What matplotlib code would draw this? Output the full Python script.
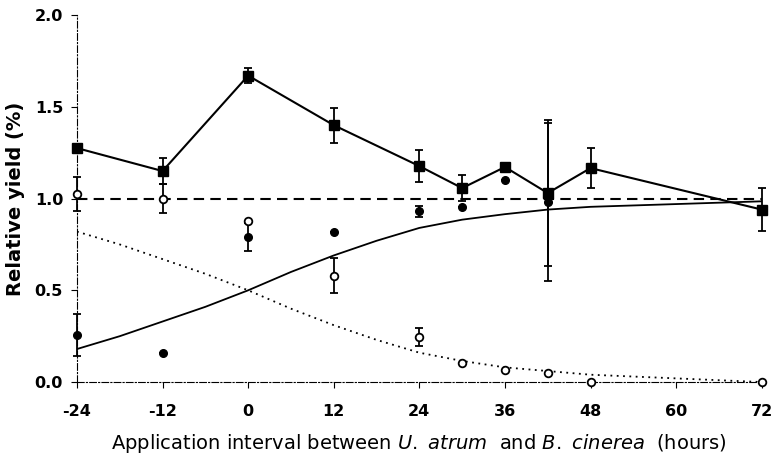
import numpy as np
import matplotlib.pyplot as plt

plt.rcParams['font.family'] = ['DejaVu Sans']
plt.rcParams['mathtext.fontset'] = 'custom'
plt.rcParams['mathtext.rm'] = 'DejaVu Sans'
plt.rcParams['mathtext.it'] = 'DejaVu Sans:italic'
plt.rcParams['axes.unicode_minus'] = False

# filled squares (joined by solid line)
sq_x = [-24, -12, 0, 12, 24, 30, 36, 42, 48, 72]
sq_y = [1.275, 1.15, 1.67, 1.40, 1.177, 1.057, 1.172, 1.03, 1.166, 0.94]
sq_err = [0.0, 0.07, 0.04, 0.095, 0.085, 0.07, 0.0, 0.40, 0.11, 0.115]

# open circles
oc_x = [-24, -12, 0, 12, 24, 30, 36, 42, 48, 72]
oc_y = [1.025, 1.0, 0.88, 0.58, 0.245, 0.105, 0.065, 0.05, 0.0, 0.0]
oc_err = [0.095, 0.08, 0.0, 0.095, 0.05, 0.0, 0.0, 0.0, 0.0, 0.0]

# filled circles
fc_x = [-24, -12, 0, 12, 24, 30, 36, 42]
fc_y = [0.256, 0.157, 0.79, 0.82, 0.93, 0.955, 1.10, 0.98]
fc_err = [0.115, 0.0, 0.075, 0.0, 0.03, 0.0, 0.0, 0.43]

# fitted curves
curve_x = [-24, -18, -12, -6, 0, 6, 12, 18, 24, 30, 36, 42, 48, 60, 72]
rise_y = [0.18, 0.25, 0.33, 0.41, 0.50, 0.60, 0.69, 0.77, 0.84, 0.885, 0.915, 0.94, 0.955, 0.97, 0.985]
fall_y = [0.82, 0.75, 0.67, 0.59, 0.50, 0.40, 0.31, 0.23, 0.16, 0.115, 0.08, 0.06, 0.04, 0.02, 0.0]

ref_x = [-24, 72]
ref_y = [1.0, 1.0]

x_ticks = [-24, -12, 0, 12, 24, 36, 48, 60, 72]
y_ticks = [0.0, 0.5, 1.0, 1.5, 2.0]

fig = plt.figure(figsize=(7.72, 4.57), dpi=100)
ax = fig.add_axes([0.0997, 0.164, 0.887, 0.803])

ax.plot(ref_x, ref_y, color='black', lw=1.5, ls=(0, (5, 3)), zorder=2)
ax.plot(curve_x, rise_y, color='black', lw=1.3, zorder=2)
ax.plot(curve_x, fall_y, color='black', lw=1.3, ls=(0, (1, 2.5)), zorder=2)

ax.errorbar(fc_x, fc_y, yerr=fc_err, fmt='o', color='black', ms=5.5,
            capsize=3, elinewidth=1.3, capthick=1.3, zorder=3, clip_on=False)
ax.errorbar(oc_x, oc_y, yerr=oc_err, fmt='o', mfc='white', mec='black', mew=1.3,
            ecolor='black', ms=5.5, capsize=3, elinewidth=1.3, capthick=1.3,
            zorder=4, clip_on=False)
ax.errorbar(sq_x, sq_y, yerr=sq_err, fmt='s-', color='black', ms=7, lw=1.5,
            capsize=3, elinewidth=1.3, capthick=1.3, zorder=5, clip_on=False)

ax.set_xlim(-24, 72)
ax.set_ylim(0, 2.0)
ax.set_xticks(x_ticks)
ax.set_yticks(y_ticks)
ax.set_yticklabels([f'{v:.1f}' for v in y_ticks])

for s in ['top', 'right']:
    ax.spines[s].set_visible(False)
for s in ['left', 'bottom']:
    ax.spines[s].set_linewidth(0.8)
    ax.spines[s].set_linestyle((0, (6, 2, 1, 2)))

ax.tick_params(axis='both', direction='out', length=4, width=0.8, labelsize=11.5)
ax.tick_params(axis='x', pad=12)
ax.tick_params(axis='y', pad=6)
for lab in ax.get_xticklabels() + ax.get_yticklabels():
    lab.set_fontweight('bold')

ax.set_ylabel('Relative yield (%)', fontsize=14, fontweight='bold', labelpad=7)
ax.set_xlabel(r'Application interval between $U.$ $atrum$  and $B.$ $cinerea$  (hours)',
              fontsize=14, labelpad=9)

fig.savefig('out.png', dpi=100)
